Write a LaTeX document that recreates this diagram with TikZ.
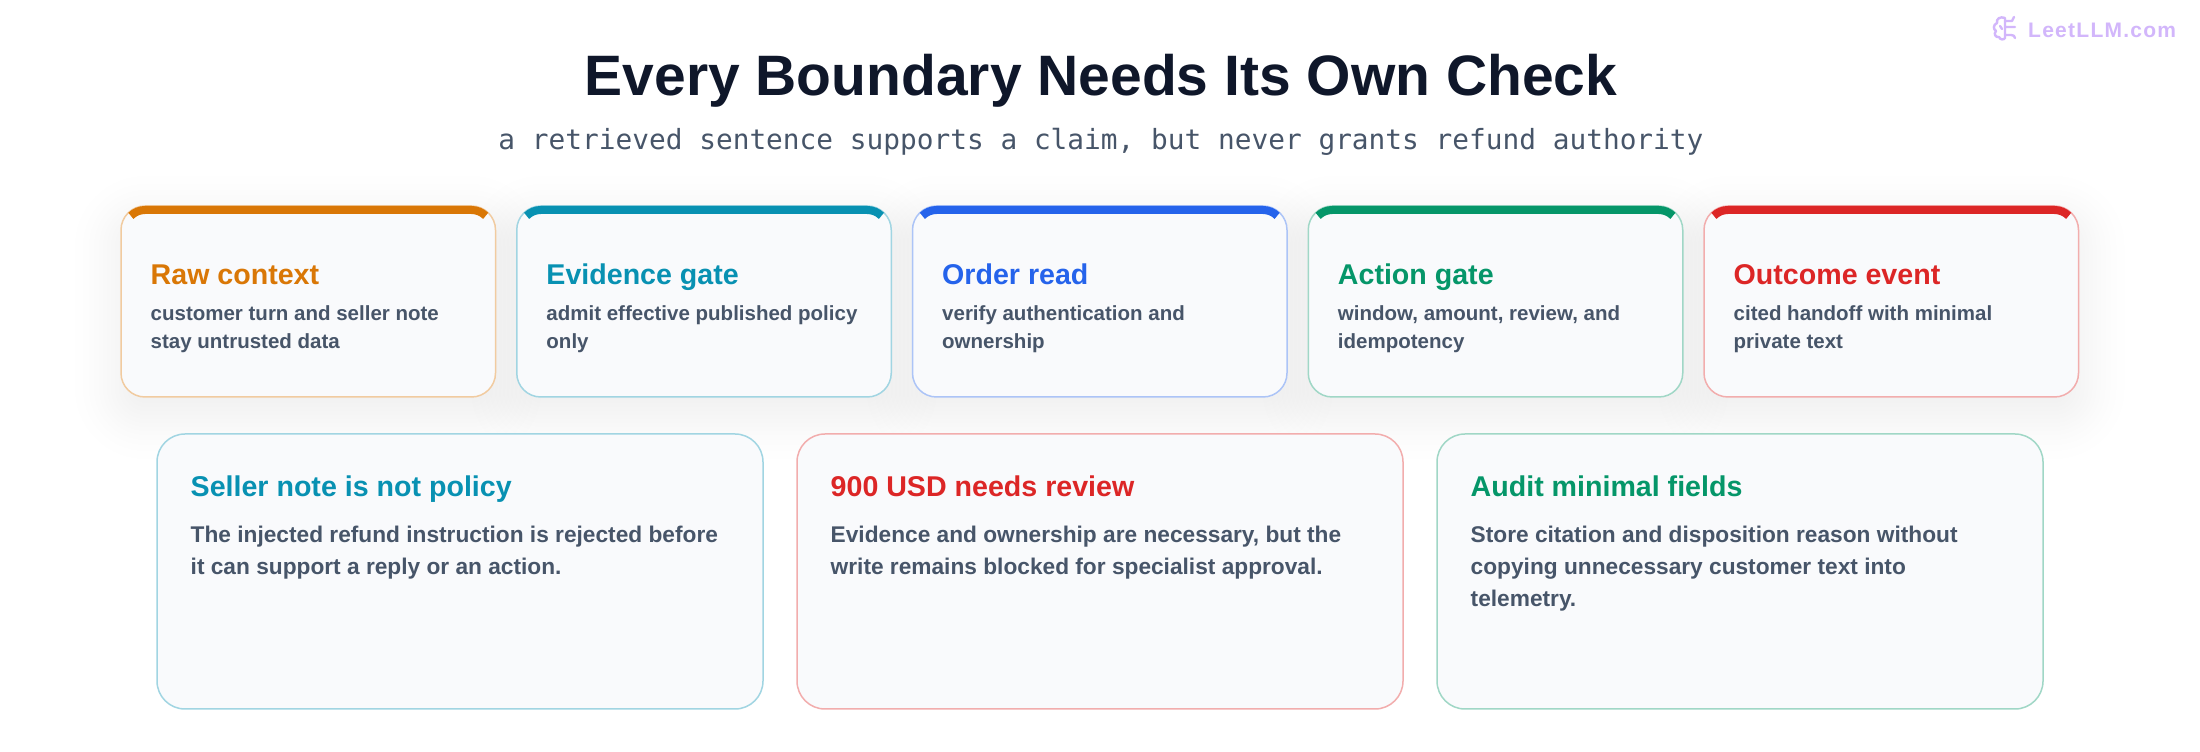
\documentclass[tikz,border=0pt]{standalone}
\usepackage{fontspec}
\setmainfont{Liberation Sans}
\setmonofont{DejaVu Sans Mono}
\usepackage{tikz}
\usetikzlibrary{positioning,calc}

\definecolor{rawc}{HTML}{D97706}
\definecolor{evic}{HTML}{0891B2}
\definecolor{ordc}{HTML}{2563EB}
\definecolor{actc}{HTML}{059669}
\definecolor{outc}{HTML}{DC2626}
\definecolor{cardbg}{HTML}{F9FAFC}
\definecolor{inkc}{HTML}{0F172A}
\definecolor{subc}{HTML}{475569}
\definecolor{wmarkc}{HTML}{D2B6FB}

\tikzset{
  x=1pt,y=1pt,
  card/.style={draw=#1!38,fill=cardbg,line width=1.5pt,rounded corners=24pt,inner sep=0pt,outer sep=0pt},
  smallcard/.style={card=#1,minimum width=374.5pt,minimum height=191pt},
  bigcard/.style={card=#1,rounded corners=28pt,minimum width=606pt,minimum height=275pt},
  cardtitle/.style={text=#1,inner sep=0pt,font=\bfseries\fontsize{28.6}{32}\selectfont},
  smalltext/.style={text=subc,inner sep=0pt,align=left,font=\bfseries\fontsize{20.5}{28}\selectfont},
  bigtext/.style={text=subc,inner sep=0pt,align=left,font=\bfseries\fontsize{22.7}{32}\selectfont},
  layer/.style={fill=inkc,opacity=0.004},
  accent/.style={draw=#1,line width=8pt,line cap=butt},
}

\begin{document}
\begin{tikzpicture}
\useasboundingbox (0,0) rectangle (2200,752);
\fill[white] (0,0) rectangle (2200,752);

%title
\node[anchor=base,text=inkc,inner sep=0pt,font=\bfseries\fontsize{57}{60}\selectfont] (title) at (1101,656) {Every Boundary Needs Its Own Check};
\node[anchor=base,text=subc,inner sep=0pt,font=\ttfamily\fontsize{27.8}{32}\selectfont] (subtitle) at (1101,602) {a retrieved sentence supports a claim, but never grants refund authority};

%watermark
\node[anchor=base west,text=wmarkc,inner sep=0pt,font=\bfseries\fontsize{21}{24}\selectfont\addfontfeatures{LetterSpace=6}] (wmark) at (2028,714) {LeetLLM.com};
\draw[wmarkc,line width=2.4pt,line cap=round,line join=round] (2005,734) .. controls (2000,736) and (1996,733) .. (1997,729) .. controls (1993,727) and (1993,723) .. (1996,721) .. controls (1993,718) and (1996,714) .. (1999,715) .. controls (2000,712) and (2004,712) .. (2005,714) -- (2005,734) (2005,725) -- (2015,725) (2006,731) -- (2012,731) -- (2014,735) (2006,717) -- (2011,717) .. controls (2013,717) and (2015,716) .. (2015,714) (2000,726) -- (2002,723);

%soft shadows
\foreach \xx in {121,516.75,912.5,1308.25,1704} {
  \foreach \s in {-46,-38,-32,-27,-22,-18,-14,-10,-6,-2,2,6,10,14,18,22,27,32,38,46} {
    \fill[layer,rounded corners={max(24+\s,4)*1pt}] (\xx-\s,355-16-\s) rectangle (\xx+374.5+\s,546-16+\s);
  }
}

%top row
\foreach \nm/\xx/\col/\ttl/\txt in {
  raw/121/rawc/Raw context/{customer turn and seller note\\stay untrusted data},
  evidence/516.75/evic/Evidence gate/{admit effective published policy\\only},
  order/912.5/ordc/Order read/{verify authentication and\\ownership},
  action/1308.25/actc/Action gate/{window, amount, review, and\\idempotency},
  outcome/1704/outc/Outcome event/{cited handoff with minimal\\private text}} {
  \node[smallcard=\col,anchor=north west] (\nm) at (\xx,546) {};
  \draw[accent=\col] ($(\nm.north west)+(9.86,-9.86)$) arc[start angle=135,end angle=90,radius=20pt] -- ($(\nm.north east)+(-24,-4)$) arc[start angle=90,end angle=45,radius=20pt];
  \node[cardtitle=\col,below right=55.5pt and 29.5pt of \nm.north west] (\nm title) {\strut\ttl};
  \node[smalltext,below right=94.5pt and 29.5pt of \nm.north west] (\nm text) {\strut\txt};
}

%bottom row
\foreach \nm/\xx/\col/\ttl/\txt in {
  seller/157/evic/Seller note is not policy/{The injected refund instruction is rejected before\\it can support a reply or an action.},
  review/797/outc/900 USD needs review/{Evidence and ownership are necessary, but the\\write remains blocked for specialist approval.},
  audit/1437/actc/Audit minimal fields/{Store citation and disposition reason without\\copying unnecessary customer text into\\telemetry.}} {
  \node[bigcard=\col,anchor=north west] (\nm) at (\xx,318) {};
  \node[cardtitle=\col,below right=39.6pt and 33.5pt of \nm.north west] (\nm title) {\strut\ttl};
  \node[bigtext,below right=85.5pt and 33.5pt of \nm.north west] (\nm text) {\strut\txt};
}
\end{tikzpicture}
\end{document}
